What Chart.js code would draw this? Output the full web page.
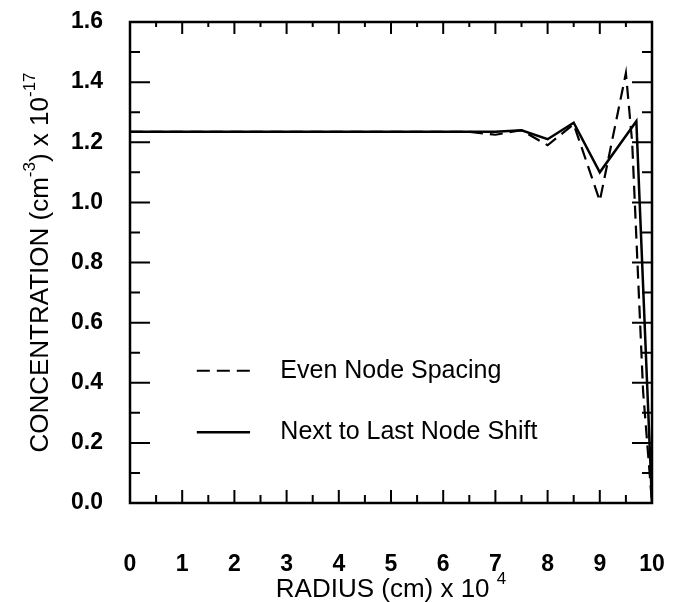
<!DOCTYPE html>
<html>
<head>
<meta charset="utf-8">
<script src="https://cdn.jsdelivr.net/npm/chart.js@4"></script>
<style>
  body { margin: 0; background: #fff; }
  #wrap { width: 673px; height: 602px; }
</style>
</head>
<body>
<div id="wrap"><canvas id="chart" width="673" height="602"></canvas></div>
<script>
// data (radius in 1e-4 cm, concentration in 1e17 cm^-3)
const evenRadius = [0, 0.5, 1, 1.5, 2, 2.5, 3, 3.5, 4, 4.5, 5, 5.5, 6, 6.5, 7, 7.5, 8, 8.5, 9, 9.5, 9.62, 9.83, 10];
const evenConc   = [1.235, 1.235, 1.235, 1.235, 1.235, 1.235, 1.235, 1.235, 1.235, 1.235, 1.235, 1.235, 1.235, 1.235,
                    1.225, 1.24, 1.19, 1.26, 1.005, 1.43, 1.2, 0.37, 0.0];
const shiftRadius = [0, 0.5, 1, 1.5, 2, 2.5, 3, 3.5, 4, 4.5, 5, 5.5, 6, 6.5, 7, 7.5, 8, 8.5, 9, 9.7, 10];
const shiftConc   = [1.235, 1.235, 1.235, 1.235, 1.235, 1.235, 1.235, 1.235, 1.235, 1.235, 1.235, 1.235, 1.235, 1.235,
                     1.235, 1.24, 1.21, 1.265, 1.10, 1.27, 0.0];
const xTicks = [0, 1, 2, 3, 4, 5, 6, 7, 8, 9, 10];
const yTicks = [0.0, 0.2, 0.4, 0.6, 0.8, 1.0, 1.2, 1.4, 1.6];
const seriesNames = ['Even Node Spacing', 'Next to Last Node Shift'];

function toPoints(xs, ys) {
    return xs.map((x, i) => ({ x: x, y: ys[i] }));
}

const FONT = '"Liberation Sans", Arial, sans-serif';

// frame, inward ticks, legend and axis titles
const decor = {
    id: 'decor',
    afterDraw(chart) {
        const ctx = chart.ctx;
        const xs = chart.scales.x, ys = chart.scales.y;
        const a = chart.chartArea;
        ctx.save();
        ctx.strokeStyle = '#000';
        ctx.fillStyle = '#000';
        ctx.lineWidth = 2.5;
        ctx.strokeRect(a.left, a.top, a.right - a.left, a.bottom - a.top);

        // x ticks, major every 1 and minor every 0.5, on bottom and top
        ctx.lineWidth = 2;
        ctx.beginPath();
        for (let i = 0; i < xTicks.length; i++) {
            const px = xs.getPixelForValue(xTicks[i]);
            ctx.moveTo(px, a.bottom); ctx.lineTo(px, a.bottom - 13);
            ctx.moveTo(px, a.top); ctx.lineTo(px, a.top + 12);
            if (i < xTicks.length - 1) {
                const pm = xs.getPixelForValue((xTicks[i] + xTicks[i + 1]) / 2);
                ctx.moveTo(pm, a.bottom); ctx.lineTo(pm, a.bottom - 8);
                ctx.moveTo(pm, a.top); ctx.lineTo(pm, a.top + 5);
            }
        }
        // y ticks, major every 0.2 and minor every 0.1, on left and right
        for (let i = 0; i < yTicks.length; i++) {
            const py = ys.getPixelForValue(yTicks[i]);
            ctx.moveTo(a.left, py); ctx.lineTo(a.left + 20, py);
            ctx.moveTo(a.right, py); ctx.lineTo(a.right - 20, py);
            if (i < yTicks.length - 1) {
                const pm = ys.getPixelForValue((yTicks[i] + yTicks[i + 1]) / 2);
                ctx.moveTo(a.left, pm); ctx.lineTo(a.left + 10, pm);
                ctx.moveTo(a.right, pm); ctx.lineTo(a.right - 10, pm);
            }
        }
        ctx.stroke();

        // legend inside the plot
        const legY = [0.44, 0.235];
        ctx.font = '25px ' + FONT;
        ctx.textBaseline = 'middle';
        ctx.textAlign = 'left';
        chart.data.datasets.forEach((ds, i) => {
            const py = ys.getPixelForValue(legY[i]);
            const x0 = xs.getPixelForValue(1.28), x1 = xs.getPixelForValue(2.3);
            ctx.lineWidth = ds.borderWidth;
            ctx.setLineDash(ds.borderDash || []);
            ctx.beginPath();
            ctx.moveTo(x0, py); ctx.lineTo(x1, py);
            ctx.stroke();
            ctx.setLineDash([]);
            ctx.fillText(ds.label, xs.getPixelForValue(2.88), py);
        });

        // x axis title with superscript
        const cx = (a.left + a.right) / 2;
        const tBig = 'RADIUS (cm) x 10 ', tSup = '4';
        ctx.font = '26px ' + FONT;
        const wBig = ctx.measureText(tBig).width;
        ctx.font = '17px ' + FONT;
        const wSup = ctx.measureText(tSup).width;
        let sx = cx - (wBig + wSup) / 2;
        ctx.textBaseline = 'alphabetic';
        ctx.font = '26px ' + FONT;
        ctx.fillText(tBig, sx, 597);
        ctx.font = '17px ' + FONT;
        ctx.fillText(tSup, sx + wBig, 584);

        // y axis title, rotated, with two superscripts
        const parts = [
            ['CONCENTRATION (cm', false], ['-3', true], [') x 10', false], ['-17', true]
        ];
        let total = 0;
        parts.forEach(p => {
            ctx.font = (p[1] ? '17px ' : '26px ') + FONT;
            total += ctx.measureText(p[0]).width;
        });
        ctx.translate(39, (a.top + a.bottom) / 2);
        ctx.rotate(-Math.PI / 2);
        let px = -total / 2;
        parts.forEach(p => {
            ctx.font = (p[1] ? '17px ' : '26px ') + FONT;
            ctx.fillText(p[0], px, p[1] ? -4 : 9);
            px += ctx.measureText(p[0]).width;
        });
        ctx.restore();
    }
};

new Chart(document.getElementById('chart'), {
    type: 'scatter',
    data: {
        datasets: [
            {
                label: seriesNames[0],
                data: toPoints(evenRadius, evenConc),
                showLine: true,
                borderColor: '#000',
                borderWidth: 2.2,
                borderDash: [13, 7],
                pointRadius: 0,
                tension: 0
            },
            {
                label: seriesNames[1],
                data: toPoints(shiftRadius, shiftConc),
                showLine: true,
                borderColor: '#000',
                borderWidth: 2.5,
                pointRadius: 0,
                tension: 0
            }
        ]
    },
    options: {
        responsive: false,
        animation: false,
        devicePixelRatio: 1,
        layout: { padding: { top: 22, right: 21, left: 0, bottom: 0 } },
        plugins: {
            legend: { display: false },
            tooltip: { enabled: false }
        },
        scales: {
            x: {
                type: 'linear',
                min: 0,
                max: 10,
                afterFit(scale) { scale.height = 99; },
                afterBuildTicks(scale) { scale.ticks = xTicks.map(v => ({ value: v })); },
                // tick marks are hidden, their length only pushes the labels down
                grid: { display: false, drawTicks: true, tickLength: 48 },
                border: { display: false },
                ticks: {
                    padding: 0,
                    color: '#000',
                    font: { family: FONT, size: 23, weight: 'bold' },
                    maxRotation: 0
                }
            },
            y: {
                type: 'linear',
                min: 0,
                max: 1.6,
                afterFit(scale) { scale.width = 130; },
                afterBuildTicks(scale) { scale.ticks = yTicks.map(v => ({ value: v })); },
                grid: { display: false, drawTicks: true, tickLength: 27 },
                border: { display: false },
                ticks: {
                    padding: 0,
                    color: '#000',
                    font: { family: FONT, size: 23, weight: 'bold' },
                    callback: v => v.toFixed(1)
                }
            }
        }
    },
    plugins: [decor]
});
</script>
</body>
</html>
